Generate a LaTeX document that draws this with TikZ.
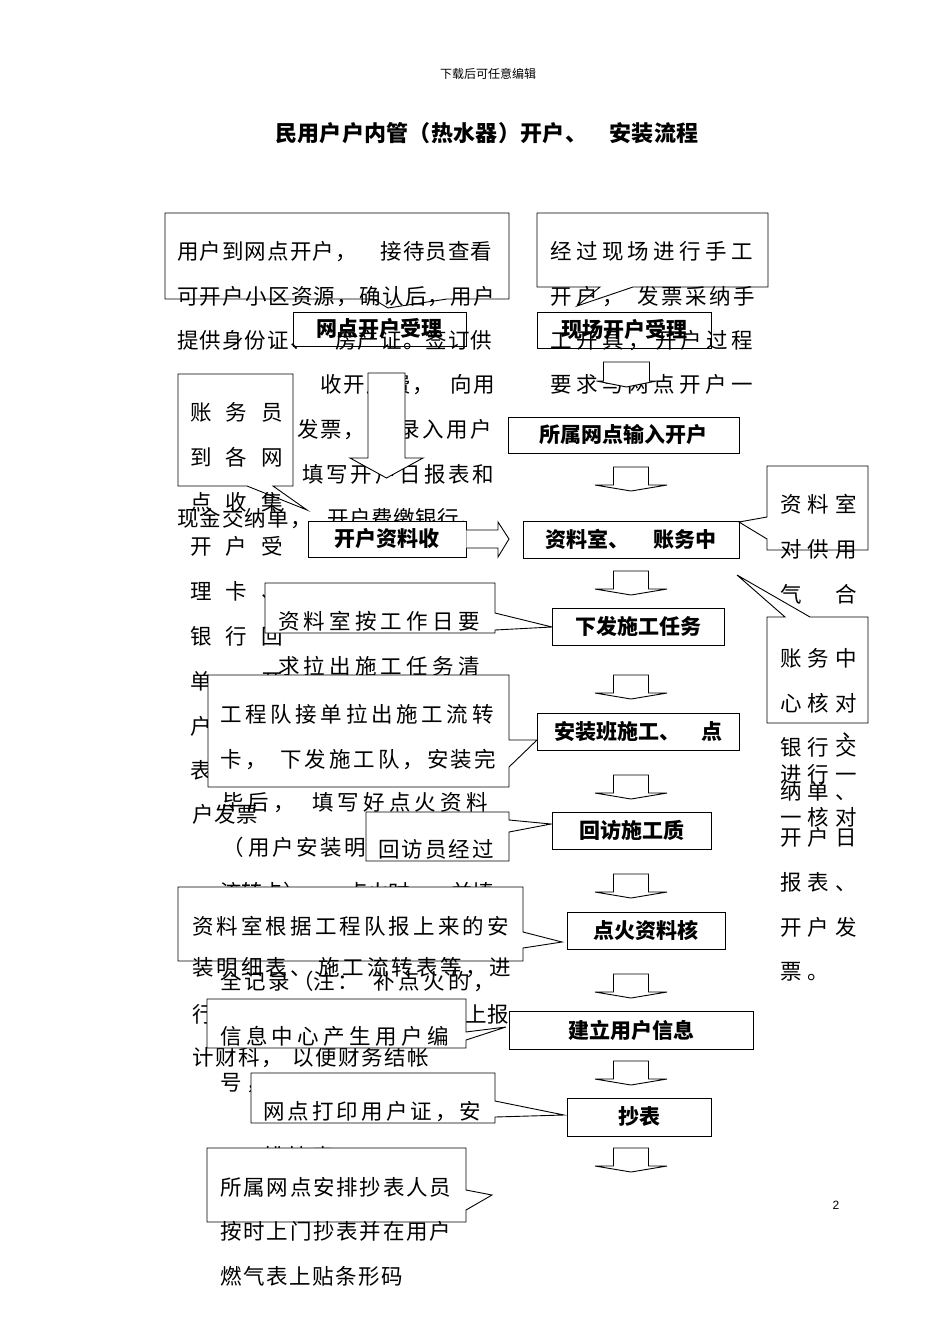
\documentclass[tikz,border=0pt]{standalone}
\usepackage{fontspec}
\setmainfont{Noto Sans CJK SC}
\newfontfamily\latf{Liberation Sans}
\newlength\pitchlen
\newcounter{tlc}
\newcommand\spchars[2]{\setlength\pitchlen{#1}\spcharsloop#2\relax}
\def\spcharsloop#1{\ifx\relax#1\else\makebox[\pitchlen][l]{#1}\expandafter\spcharsloop\fi}
\newcommand\txtfont{\fontsize{21.5}{21.5}\selectfont}
\newcommand\tline[4]{\stepcounter{tlc}\node[txt] (tl\arabic{tlc}) at (#1,#2+7.5) {\spchars{#3pt}{#4}};}
\newcommand\blkdown[6]{\draw[blk] (#1-#3,#2) -- (#1+#3,#2) -- (#1+#3,#5) -- (#1+#4,#5) -- (#1,#6) -- (#1-#4,#5) -- (#1-#3,#5) -- cycle;}
\newcommand\sarrow[2]{\blkdown{#1}{#2}{17.5}{36}{#2+18}{#2+24}}
\tikzset{
  txt/.style={anchor=base west, inner sep=0pt, font=\txtfont},
  flow/.style={draw, line width=0.9pt, fill=white, inner sep=0pt, font=\fontsize{21}{21}\selectfont\bfseries},
  flownf/.style={draw, line width=0.9pt, inner sep=0pt, font=\fontsize{21}{21}\selectfont\bfseries},
  callout/.style={draw, line width=0.9pt, fill=white},
  calloutnf/.style={draw, line width=0.9pt},
  blk/.style={draw, line width=0.9pt, fill=white},
}
\begin{document}
\begin{tikzpicture}[x=1pt, y=-1pt]
\fill[white] (0,0) rectangle (950,1344);
\useasboundingbox (0,0) rectangle (950,1344);

% header and title
\node[inner sep=0pt, font=\fontsize{12}{12}\selectfont] (hdr) at (488,74) {下载后可任意编辑};
\node[anchor=base west, inner sep=0pt, font=\fontsize{22}{22}\selectfont\bfseries] (title) at (275,141) {\spchars{22.3pt}{民用户户内管（热水器）开户、~安装流程}};

% callout 1
\draw[calloutnf] (165,213) -- (509,213) -- (509,299) -- (447,299) -- (388,308) -- (373,299) -- (165,299) -- cycle;
\tline{177}{252}{22.6}{用户到网点开户，~接待员查看}
\tline{177}{297}{22.8}{可开户小区资源，确认后，用户}
\tline{177}{341}{22.6}{提供身份证、~房产证。签订供}
\tline{320}{385}{23}{收开户费，}
\tline{450}{385}{23.5}{向用}
\tline{297}{430}{23}{发票，}
\tline{398}{430}{24}{录入用户}
\tline{302}{475}{24.4}{填写开户日报表和}
\tline{177}{519}{22.6}{现金交纳单，}
\tline{327}{519}{22}{开户费缴银行。}

% callout 2
\draw[calloutnf] (537,213) -- (768,213) -- (768,287) -- (633,287) -- (577,306) -- (600,287) -- (537,287) -- cycle;
\tline{550}{252}{25.9}{经过现场进行手工}
\tline{550}{297}{26}{开户，}
\tline{637}{297}{24}{发票采纳手}
\tline{550}{341}{26}{工开具，}
\tline{655}{341}{25.5}{开户过程}
\tline{550}{385}{25.9}{要求与网点开户一}

% first row boxes (unfilled)
\node[flownf, minimum width=173pt, minimum height=34pt] (A) at (379.5,329) {网点开户受理};
\node[flownf, minimum width=174pt, minimum height=36pt] (B) at (624,330) {现场开户受理};

% block arrows under A and B
\blkdown{386.5}{373}{18.5}{36.5}{458}{478}
\blkdown{626.5}{362}{23}{30}{381}{387}

% callout 3
\draw[callout] (178,374) -- (293,374) -- (293,486) -- (273,486) -- (307,510) -- (247,486) -- (178,486) -- cycle;
\tline{190}{413}{35.5}{账务员}
\tline{190}{458}{35.5}{到各网}
\tline{190}{503}{35.5}{点收集}
\tline{190}{547}{35.5}{开户受}
\tline{190}{592}{35.5}{理卡、}
\tline{190}{637}{35.5}{银行回}
\tline{190}{682}{35.5}{单、开}
\tline{190}{727}{35.5}{户日报}
\tline{190}{771}{35.5}{表、开}
\tline{192}{815}{22}{户发票}

% K box and arrow to D
\node[flow, minimum width=158pt, minimum height=36pt] (K) at (387,539) {开户资料收};
\draw[blk] (K.east |- 0,530) -- (498,530) -- (498,522) -- (509,539) -- (498,557) -- (498,548) -- (K.east |- 0,548);

% C, D boxes
\node[flow, minimum width=231pt, minimum height=36pt] (C) at (623.5,435) {所属网点输入开户};
\node[flow, minimum width=216pt, minimum height=37pt] (D) at (631,539.5) {资料室、\hspace{1.1em}账务中};
\sarrow{631}{467}
\sarrow{631}{571}

% callout 4
\draw[callout] (265,583) -- (495,583) -- (495,613) -- (552,627) -- (495,630) -- (495,633) -- (265,633) -- cycle;
\tline{278}{622}{25.7}{资料室按工作日要}
\tline{278}{667}{25.7}{求拉出施工任务清}

% callout 5
\draw[callout] (208,675) -- (509,675) -- (509,740) -- (537,740) -- (509,767) -- (509,787) -- (208,787) -- cycle;
\tline{220}{715}{25.2}{工程队接单拉出施工流转}
\tline{220}{760}{25}{卡，}
\tline{280}{760}{24.5}{下发施工队，}
\tline{427}{760}{23.5}{安装完}
\tline{222}{803}{25.7}{毕后，}
\tline{312}{803}{25.7}{填写好点火资料}
\tline{222}{848}{24}{（}
\tline{248}{848}{24}{用户安装明细表、施工流}
\tline{220}{893}{21}{流转卡），~点火时，~并填}
\tline{220}{982}{24}{全记录（}
\tline{313}{982}{24}{注：}
\tline{373}{982}{25}{补点火的，}

% callout 6
\draw[callout] (366,812) -- (509,812) -- (509,820) -- (551,824) -- (509,832) -- (509,861) -- (366,861) -- cycle;
\tline{378}{850}{23.5}{回访员经过}

% callout 7
\draw[callout] (178,887) -- (523,887) -- (523,932) -- (562,942) -- (523,948) -- (523,961) -- (178,961) -- cycle;
\tline{192}{927}{24.6}{资料室根据工程队报上来的安}
\tline{192}{968}{24.6}{装明细表、}
\tline{318}{968}{24.5}{施工流转表等，}
\tline{489}{968}{23}{进}
\tline{192}{1015}{23}{行}
\tline{465}{1015}{22}{上报}
\tline{192}{1058}{23}{计财科，}
\tline{292}{1058}{23}{以便财务结帐}

% callout 8
\draw[callout] (207,999) -- (466,999) -- (466,1032) -- (506,1027) -- (466,1040) -- (466,1048) -- (207,1048) -- cycle;
\tline{220}{1037}{25.9}{信息中心产生用户编}
\tline{220}{1083}{26}{号，}

% callout 9
\draw[callout] (251,1073) -- (495,1073) -- (495,1101) -- (564,1115) -- (495,1117) -- (495,1123) -- (251,1123) -- cycle;
\tline{263}{1112}{24.6}{网点打印用户证，安}
\tline{263}{1157}{24.6}{排抄表}

% callout 10
\draw[callout] (207,1148) -- (466,1148) -- (466,1190) -- (492,1195) -- (466,1210) -- (466,1222) -- (207,1222) -- cycle;
\tline{220}{1188}{23.3}{所属网点安排抄表人员}
\tline{220}{1232}{23.3}{按时上门抄表并在用户}
\tline{220}{1277}{23}{燃气表上贴条形码}

% right flow boxes
\node[flow, minimum width=172pt, minimum height=37pt] (E) at (638,626.5) {下发施工任务};
\node[flow, minimum width=202pt, minimum height=37pt] (F) at (638,731.5) {安装班施工、\hspace{1em}点};
\node[flow, minimum width=159pt, minimum height=37pt] (G) at (631.5,830.5) {回访施工质};
\node[flow, minimum width=158pt, minimum height=37pt] (H) at (646,930.5) {点火资料核};
\node[flow, minimum width=244pt, minimum height=38pt] (I) at (631,1030) {建立用户信息};
\node[flow, minimum width=144pt, minimum height=38pt] (J) at (639,1117) {抄表};
\sarrow{631}{675}
\sarrow{631}{775}
\sarrow{631}{874}
\sarrow{631}{974}
\sarrow{631}{1061}
\sarrow{631}{1148}

% callout 11
\draw[callout] (767,466) -- (868,466) -- (868,550) -- (767,550) -- (767,539) -- (739,522) -- (767,517) -- cycle;
\tline{780}{505}{27.5}{资料室}
\tline{780}{550}{27.5}{对供用}
\tline{780}{595}{27.5}{气~合}
\tline{842}{730}{22}{、}
\tline{780}{775}{27.5}{进行一}
\tline{780}{818}{27.5}{一核对}

% callout 12
\draw[callout] (767,617) -- (785,617) -- (737,575) -- (810,617) -- (868,617) -- (868,723) -- (767,723) -- cycle;
\tline{780}{659}{27.5}{账务中}
\tline{780}{704}{27.5}{心核对}
\tline{780}{748}{27.5}{银行交}
\tline{780}{792}{27.5}{纳单、}
\tline{780}{838}{27.5}{开户日}
\tline{780}{883}{27.5}{报表、}
\tline{780}{928}{27.5}{开户发}
\tline{780}{972}{27.5}{票。}

% page number
\node[inner sep=0pt, font=\latf\fontsize{12}{12}\selectfont] (pg) at (836,1205) {2};
\end{tikzpicture}
\end{document}
